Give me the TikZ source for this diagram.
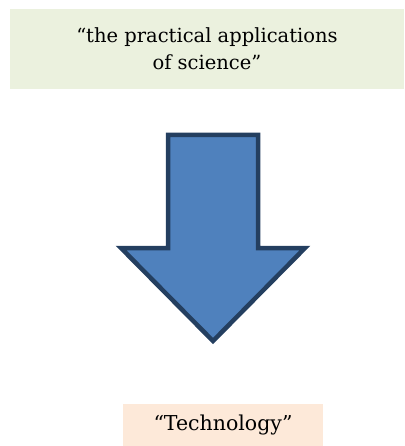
\documentclass[tikz,border=0pt]{standalone}
\usepackage{fontspec}
\setmainfont{DejaVu Serif}
\usetikzlibrary{positioning}

\definecolor{quotegreen}{HTML}{EBF1DE}
\definecolor{quotepeach}{HTML}{FDE9D9}
\definecolor{arrowfill}{HTML}{4F81BD}
\definecolor{arrowline}{HTML}{243F60}

\begin{document}
\begin{tikzpicture}[
            x=1pt, y=-1pt,
            quote/.style={inner sep=0pt, text centered, align=center,
                          font=\fontsize{19.5}{27}\selectfont},
            bigarrow/.style={fill=arrowfill, draw=arrowline,
                             line width=4.5pt, miter limit=10}]

            \useasboundingbox (0,0) rectangle (404,446);

            %% ── Nodes ─────────────────────────────────────────────────────
            \node[quote, fill=quotegreen, minimum width=394pt,
                  minimum height=80pt]            (def)  at (207,49)
                {``the practical applications\\of science''};
            \node[quote, fill=quotepeach, minimum width=200pt,
                  minimum height=42pt, font=\fontsize{20.5}{27}\selectfont]
                                                  (tech) at (223,425)
                {``Technology''};

            %% ── Block arrow ───────────────────────────────────────────────
            \draw[bigarrow] (168,135) -- (258,135) -- (258,248)
                -- (305,248) -- (213,341) -- (121,248)
                -- (168,248) -- cycle;

        \end{tikzpicture}
\end{document}
